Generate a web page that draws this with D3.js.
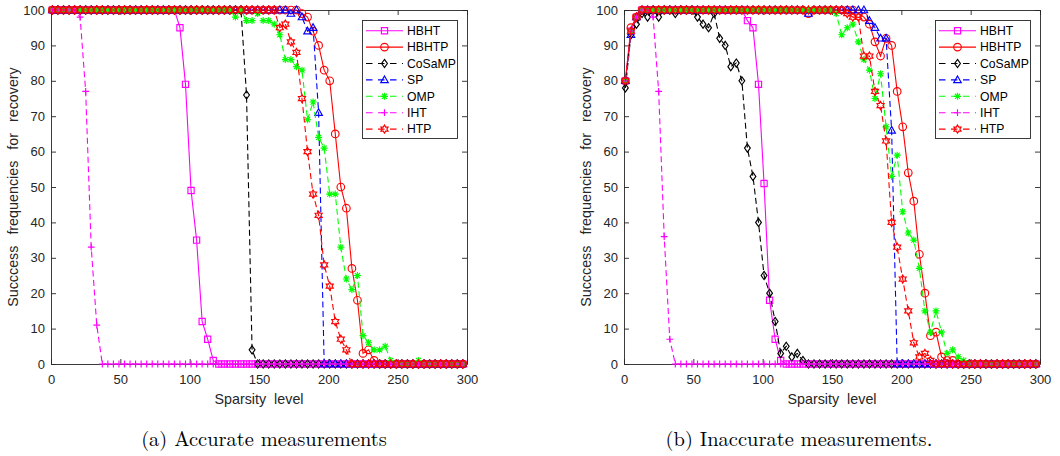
<!DOCTYPE html>
<html>
<head>
<meta charset="utf-8">
<script src="https://cdn.jsdelivr.net/npm/d3@7"></script>
<style>
  body { margin: 0; background: #fff; }
</style>
</head>
<body>
<div id="vis"></div>
<script>
// sparsity levels on the x axis
const sparsity = [1, 5, 9, 13, 17, 21, 25, 29, 33, 37, 41, 45, 49, 53, 57, 61, 65, 69, 73, 77,
  81, 85, 89, 93, 97, 101, 105, 109, 113, 117, 121, 125, 129, 133, 137, 141, 145, 149, 153, 157,
  161, 165, 169, 173, 177, 181, 185, 189, 193, 197, 201, 205, 209, 213, 217, 221, 225, 229, 233, 237,
  241, 245, 249, 253, 257, 261, 265, 269, 273, 277, 281, 285, 289, 293, 297];

const names = ["HBHT", "HBHTP", "CoSaMP", "SP", "OMP", "IHT", "HTP"];
const xTicks = [0, 50, 100, 150, 200, 250, 300];
const yTicks = [0, 10, 20, 30, 40, 50, 60, 70, 80, 90, 100];

// (a) accurate measurements
const hbhtA = [100,100,100,100,100,100,100,100,100,100, 100,100,100,100,100,100,100,100,100,100,
  100,100,100,95,79,49,35,12,7,1, 0,0,0,0,0,0,0,0,0,0, 0,0,0,0,0,0,0,0,0,0,
  0,0,0,0,0,0,0,0,0,0, 0,0,0,0,0,0,0,0,0,0, 0,0,0,0,0];
const hbhtpA = [100,100,100,100,100,100,100,100,100,100, 100,100,100,100,100,100,100,100,100,100,
  100,100,100,100,100,100,100,100,100,100, 100,100,100,100,100,100,100,100,100,100,
  100,100,100,100,100,99,98,94,90,83, 80,65,50,44,27,18,3,4,1,0,
  0,0,0,0,0,0,0,0,0,0, 0,0,0,0,0];
const cosampA = [100,100,100,100,100,100,100,100,100,100, 100,100,100,100,100,100,100,100,100,100,
  100,100,100,100,100,100,100,100,100,100, 100,100,100,100,100,76,4,0,0,0,
  0,0,0,0,0,0,0,0,0,0, 0,0,0,0,0,0,0,0,0,0, 0,0,0,0,0,0,0,0,0,0, 0,0,0,0,0];
const spA = [100,100,100,100,100,100,100,100,100,100, 100,100,100,100,100,100,100,100,100,100,
  100,100,100,100,100,100,100,100,100,100, 100,100,100,100,100,100,100,100,100,100,
  100,100,100,99,100,98,94,95,71,0, 0,0,0,0,0,0,0,0,0,0,
  0,0,0,0,0,0,0,0,0,0, 0,0,0,0,0];
const ompA = [100,100,100,100,100,100,100,100,100,100, 100,100,100,100,100,100,100,100,100,100,
  100,100,100,100,100,100,100,100,100,100, 100,100,100,98,100,97,97,99,97,97,
  96,93,86,86,84,83,69,74,64,61, 48,48,33,24,21,25,8,6,4,4,
  5,1,0,0,0,0,1,0,0,0, 0,0,0,0,0];
const ihtA = [100,100,100,100,100,98,77,33,11,0, 0,0,0,0,0,0,0,0,0,0,
  0,0,0,0,0,0,0,0,0,0, 0,0,0,0,0,0,0,0,0,0, 0,0,0,0,0,0,0,0,0,0,
  0,0,0,0,0,0,0,0,0,0, 0,0,0,0,0,0,0,0,0,0, 0,0,0,0,0];
const htpA = [100,100,100,100,100,100,100,100,100,100, 100,100,100,100,100,100,100,100,100,100,
  100,100,100,100,100,100,100,100,100,100, 100,100,100,100,100,100,100,100,100,100,
  100,95,96,91,88,75,60,48,42,28, 22,12,7,4,0,0,0,0,0,0,
  0,0,0,0,0,0,0,0,0,0, 0,0,0,0,0];

// (b) inaccurate measurements
const hbhtB = [80,94,98,100,100,100,100,100,100,100, 100,100,100,100,100,100,100,100,100,100,
  100,100,97,95,79,51,18,7,1,0, 0,0,0,0,0,0,0,0,0,0, 0,0,0,0,0,0,0,0,0,0,
  0,0,0,0,0,0,0,0,0,0, 0,0,0,0,0,0,0,0,0,0, 0,0,0,0,0];
const hbhtpB = [80,95,98,100,100,100,100,100,100,100, 100,100,100,100,100,100,100,100,100,100,
  100,100,100,100,100,100,100,100,100,100, 100,100,100,99,100,100,100,100,100,100,
  100,100,99,98,96,91,87,92,90,77, 67,54,46,31,20,8,9,2,1,1,
  0,0,0,0,0,0,0,0,0,0, 0,0,0,0,0];
const cosampB = [78,93,96,99,98,100,98,100,100,99, 100,100,100,98,96,95,99,92,90,84,
  85,80,61,53,40,25,20,12,3,5, 2,3,1,0,0,0,0,0,0,0,
  0,0,0,0,0,0,0,0,0,0, 0,0,0,0,0,0,0,0,0,0, 0,0,0,0,0,0,0,0,0,0, 0,0,0,0,0];
const spB = [80,93,98,100,100,100,100,100,100,100, 100,100,100,100,100,100,100,100,100,100,
  100,100,100,100,100,100,100,100,100,100, 100,100,100,99,100,100,100,100,100,100,
  100,100,100,100,97,95,92,92,66,0, 0,0,0,0,0,0,0,0,0,0,
  0,0,0,0,0,0,0,0,0,0, 0,0,0,0,0];
const ompB = [80,94,98,100,100,100,100,100,100,100, 100,100,100,100,100,100,100,100,100,100,
  100,100,100,100,100,100,100,100,100,100, 100,100,100,100,100,100,100,100,99,93,
  95,96,91,86,83,75,82,67,53,59, 43,37,35,27,15,9,15,9,3,4,
  2,1,0,0,0,0,0,0,0,0, 0,0,0,0,0];
const ihtB = [80,94,98,100,100,98,77,36,7,0, 0,0,0,0,0,0,0,0,0,0,
  0,0,0,0,0,0,0,0,0,0, 0,0,0,0,0,0,0,0,0,0, 0,0,0,0,0,0,0,0,0,0,
  0,0,0,0,0,0,0,0,0,0, 0,0,0,0,0,0,0,0,0,0, 0,0,0,0,0];
const htpB = [80,94,98,100,100,100,100,100,100,100, 100,100,100,100,100,100,100,100,100,100,
  100,100,100,100,100,100,100,100,100,100, 100,100,100,100,100,100,100,100,100,100,
  99,98,98,87,87,77,73,63,40,33, 24,15,6,2,3,1,0,0,0,0,
  0,0,0,0,0,0,0,0,0,0, 0,0,0,0,0];

const width = 1060;
const height = 456;
const plotTop = 10;
const plotBottom = 364;
const axisColor = "#262626";
const sansFont = "'Liberation Sans', Arial, sans-serif";

// line style for each method (same order as names)
const styles = [
  {color: "#ff00ff", dash: null, marker: "square"},
  {color: "#ff0000", dash: null, marker: "circle"},
  {color: "#000000", dash: "6,3.5", marker: "diamond"},
  {color: "#0000ff", dash: "6,3.5", marker: "triangle"},
  {color: "#00ff00", dash: "6,3.5", marker: "asterisk"},
  {color: "#ff00ff", dash: "6,3.5", marker: "plus"},
  {color: "#ff0000", dash: "6,3.5", marker: "hexagram"}
];

// marker shapes, size = half width in px
const markers = {
  square: {draw(p, r) { p.rect(-r, -r, 2 * r, 2 * r); }},
  circle: {draw(p, r) { p.moveTo(r, 0); p.arc(0, 0, r, 0, 2 * Math.PI); }},
  diamond: {draw(p, r) {
    p.moveTo(0, -r * 1.2); p.lineTo(r * 0.85, 0); p.lineTo(0, r * 1.2); p.lineTo(-r * 0.85, 0); p.closePath();
  }},
  triangle: {draw(p, r) {
    p.moveTo(0, -r * 1.1); p.lineTo(r * 1.05, r * 0.75); p.lineTo(-r * 1.05, r * 0.75); p.closePath();
  }},
  plus: {draw(p, r) { p.moveTo(-r, 0); p.lineTo(r, 0); p.moveTo(0, -r); p.lineTo(0, r); }},
  asterisk: {draw(p, r) {
    const q = r * 0.72;
    p.moveTo(-r, 0); p.lineTo(r, 0); p.moveTo(0, -r); p.lineTo(0, r);
    p.moveTo(-q, -q); p.lineTo(q, q); p.moveTo(-q, q); p.lineTo(q, -q);
  }},
  hexagram: {draw(p, r) {
    for (let i = 0; i < 12; i++) {
      const a = -Math.PI / 2 + i * Math.PI / 6;
      const rr = i % 2 === 0 ? r : r / Math.sqrt(3);
      if (i === 0) p.moveTo(rr * Math.cos(a), rr * Math.sin(a));
      else p.lineTo(rr * Math.cos(a), rr * Math.sin(a));
    }
    p.closePath();
  }}
};
const markerSize = {square: 3.1, circle: 3.8, diamond: 3.4, triangle: 3.6, plus: 3.4, asterisk: 3.5, hexagram: 4.1};

const panels = [
  {left: 51, right: 467, series: [hbhtA, hbhtpA, cosampA, spA, ompA, ihtA, htpA],
    caption: "(a) Accurate measurements", captionX: 264, legendX: 362},
  {left: 624, right: 1040, series: [hbhtB, hbhtpB, cosampB, spB, ompB, ihtB, htpB],
    caption: "(b) Inaccurate measurements.", captionX: 799, legendX: 935}
];

const svg = d3.select("#vis")
        .append("svg")
        .attr("width", width)
        .attr("height", height)
        .style("display", "block")
        .style("background", "#fff");

function styleAxis(g) {
  g.attr("font-family", sansFont).attr("font-size", 13);
  g.selectAll("path, line").attr("stroke", axisColor).attr("stroke-width", 0.9);
  g.selectAll("text").attr("fill", axisColor);
}

function drawMarker(g, type, color, cx, cy) {
  g.append("path")
          .attr("d", d3.symbol().type(markers[type]).size(markerSize[type])())
          .attr("transform", "translate(" + cx + "," + cy + ")")
          .attr("fill", "none")
          .attr("stroke", color)
          .attr("stroke-width", 1.15);
}

function drawPanel(p) {
  const g = svg.append("g");
  const xScale = d3.scaleLinear().domain([0, 300]).range([p.left, p.right]);
  const yScale = d3.scaleLinear().domain([0, 100]).range([plotBottom, plotTop]);

  g.append("rect")
          .attr("x", p.left).attr("y", plotTop)
          .attr("width", p.right - p.left).attr("height", plotBottom - plotTop)
          .attr("fill", "#fff");

  // axes with inward ticks on all four sides
  g.append("g").attr("transform", "translate(0," + plotBottom + ")")
          .call(d3.axisBottom(xScale).tickValues(xTicks).tickSizeInner(-5).tickSizeOuter(0).tickPadding(11))
          .call(styleAxis);
  g.append("g").attr("transform", "translate(0," + plotTop + ")")
          .call(d3.axisTop(xScale).tickValues(xTicks).tickSizeInner(-5).tickSizeOuter(0).tickFormat(""))
          .call(styleAxis);
  g.append("g").attr("transform", "translate(" + p.left + ",0)")
          .call(d3.axisLeft(yScale).tickValues(yTicks).tickSizeInner(-5).tickSizeOuter(0).tickPadding(6))
          .call(styleAxis);
  g.append("g").attr("transform", "translate(" + p.right + ",0)")
          .call(d3.axisRight(yScale).tickValues(yTicks).tickSizeInner(-5).tickSizeOuter(0).tickFormat(""))
          .call(styleAxis);

  // curves
  const line = d3.line()
          .x((d, i) => xScale(sparsity[i]))
          .y(d => yScale(d));

  p.series.forEach((values, s) => {
    const st = styles[s];
    const sg = g.append("g");
    sg.append("path")
            .attr("d", line(values))
            .attr("fill", "none")
            .attr("stroke", st.color)
            .attr("stroke-width", 1.1)
            .attr("stroke-dasharray", st.dash);
    values.forEach((v, i) => drawMarker(sg, st.marker, st.color, xScale(sparsity[i]), yScale(v)));
  });

  // axis titles
  g.append("text")
          .attr("x", (p.left + p.right) / 2)
          .attr("y", 404)
          .attr("text-anchor", "middle")
          .attr("font-family", sansFont)
          .attr("font-size", 14.3)
          .attr("word-spacing", 4)
          .attr("fill", axisColor)
          .text("Sparsity level");

  g.append("text")
          .attr("transform", "translate(" + (p.left - 33) + "," + ((plotTop + plotBottom) / 2) + ") rotate(-90)")
          .attr("text-anchor", "middle")
          .attr("font-family", sansFont)
          .attr("font-size", 14.3)
          .attr("word-spacing", 7)
          .attr("fill", axisColor)
          .text("Succcess frequencies for recovery");

  // legend
  const lg = g.append("g").attr("transform", "translate(" + p.legendX + ",20)");
  lg.append("rect")
          .attr("x", 0.5).attr("y", 0.5)
          .attr("width", 95).attr("height", 118)
          .attr("fill", "#fff")
          .attr("stroke", axisColor)
          .attr("stroke-width", 0.9);
  names.forEach((name, s) => {
    const st = styles[s];
    const cy = 10.7 + s * 16.4;
    lg.append("line")
            .attr("x1", 4).attr("x2", 41)
            .attr("y1", cy).attr("y2", cy)
            .attr("stroke", st.color)
            .attr("stroke-width", 1.1)
            .attr("stroke-dasharray", st.dash ? "6.5,5.5" : null);
    drawMarker(lg, st.marker, st.color, 22.5, cy);
    lg.append("text")
            .attr("x", 45)
            .attr("y", cy + 4.3)
            .attr("font-family", sansFont)
            .attr("font-size", 12.2)
            .attr("fill", "#000")
            .text(name);
  });

  // caption
  g.append("text")
          .attr("x", p.captionX)
          .attr("y", 446)
          .attr("text-anchor", "middle")
          .attr("font-family", "'Latin Modern Roman', 'CMU Serif', 'Liberation Serif', serif")
          .attr("font-size", 20.5)
          .attr("fill", "#000")
          .text(p.caption);
}

panels.forEach(drawPanel);
</script>
</body>
</html>
